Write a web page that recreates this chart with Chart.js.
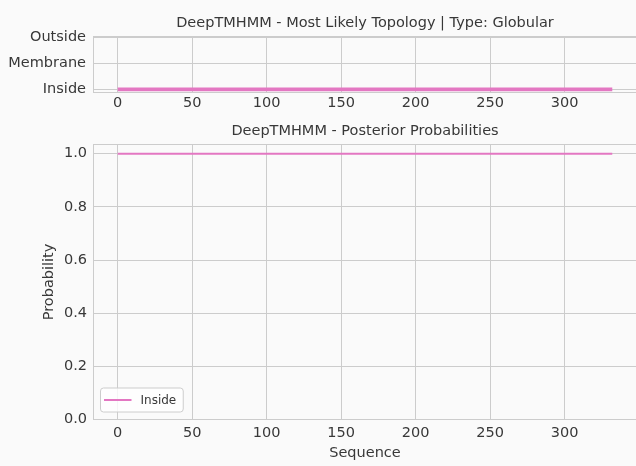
<!DOCTYPE html>
<html>
<head>
<meta charset="utf-8">
<script src="https://cdn.jsdelivr.net/npm/chart.js@4.4.0/dist/chart.umd.min.js"></script>
<style>
html, body { margin: 0; padding: 0; background: #fafafa; overflow: hidden; }
#wrap { position: relative; width: 636px; height: 466px; overflow: hidden; }
canvas { position: absolute; left: 0; }
#topo { top: 0; }
#prob { top: 116px; }
</style>
</head>
<body>
<div id="wrap">
  <canvas id="topo" width="640" height="116"></canvas>
  <canvas id="prob" width="640" height="350"></canvas>
</div>
<script>
// data
let seqPos = [0, 332]            // first and last residue of the sequence
let topoCats = ['Inside', 'Membrane', 'Outside']
let topoState = [0, 0]           // index in topoCats (Inside the whole way)
let probLabel = 'Inside'
let probInside = [1.0, 1.0]
let xTicks = [0, 50, 100, 150, 200, 250, 300]
let topoTicks = [0, 1, 2]
let probTicks = [0, 0.2, 0.4, 0.6, 0.8, 1.0]

let rosa = '#e377c2'
let cinza = '#cccccc'
let texto = '#383838'
let fonte = 'DejaVu Sans'
let tam = 14.5

Chart.defaults.font.family = fonte
Chart.defaults.color = texto
Chart.defaults.animation = false

function pontos(xs, ys) {
    return xs.map((x, i) => ({ x: x, y: ys[i] }))
}

// frame round the plot area (matplotlib spines)
const moldura = {
    id: 'moldura',
    beforeDatasetsDraw(chart) {
        const { ctx, chartArea: a } = chart
        ctx.save()
        ctx.strokeStyle = cinza
        ctx.lineWidth = 1
        ctx.strokeRect(Math.round(a.left) + 0.5, Math.round(a.top) + 0.5,
            Math.round(a.right - a.left), Math.round(a.bottom - a.top))
        ctx.restore()
    }
}

// legend drawn inside the plot, lower left
const legendaDentro = {
    id: 'legendaDentro',
    afterDraw(chart) {
        const { ctx, chartArea: a } = chart
        const ds = chart.data.datasets[0]
        ctx.save()
        ctx.font = '12px "' + fonte + '"'
        const w = 47 + ctx.measureText(ds.label).width
        const h = 24
        const x = a.left + 7.5
        const y = a.bottom - 7.5 - h
        ctx.beginPath()
        ctx.roundRect(x, y, w, h, 3)
        ctx.fillStyle = 'rgba(255,255,255,0.8)'
        ctx.fill()
        ctx.strokeStyle = cinza
        ctx.lineWidth = 1
        ctx.stroke()
        ctx.strokeStyle = ds.borderColor
        ctx.lineWidth = 2
        ctx.beginPath()
        ctx.moveTo(x + 3.5, y + h / 2)
        ctx.lineTo(x + 31, y + h / 2)
        ctx.stroke()
        ctx.fillStyle = texto
        ctx.textBaseline = 'middle'
        ctx.fillText(ds.label, x + 40, y + h / 2 + 0.5)
        ctx.restore()
    }
}

function eixoX(altura, pad, titulo) {
    let e = {
        type: 'linear',
        min: -16.6,
        max: 348.6,
        afterBuildTicks: ax => { ax.ticks = xTicks.map(v => ({ value: v })) },
        afterFit: ax => { ax.height = altura },
        grid: { color: cinza, drawTicks: false },
        border: { display: false },
        ticks: { font: { size: tam }, padding: pad, maxRotation: 0 }
    }
    if (titulo) {
        e.title = { display: true, text: titulo, font: { size: tam }, padding: { top: 2, bottom: 4 } }
    }
    return e
}

// grafico de cima: topologia
new Chart(document.getElementById('topo'), {
    type: 'line',
    data: {
        datasets: [{
            label: 'Topology',
            data: pontos(seqPos, topoState),
            borderColor: rosa,
            borderWidth: 4,
            borderCapStyle: 'butt',
            pointRadius: 0
        }]
    },
    options: {
        responsive: false,
        layout: { padding: { left: 0, right: 3, top: 0, bottom: 0 } },
        plugins: {
            legend: { display: false },
            tooltip: { enabled: false },
            title: {
                display: true,
                fullSize: false,
                text: 'DeepTMHMM - Most Likely Topology | Type: Globular',
                font: { size: tam, weight: 'normal' },
                padding: { top: 15, bottom: 4.5 }
            }
        },
        scales: {
            x: eixoX(24.5, 3),
            y: {
                type: 'linear',
                min: -0.075,
                max: 2,
                afterBuildTicks: ax => { ax.ticks = topoTicks.map(v => ({ value: v })) },
                afterFit: ax => { ax.width = 93 },
                grid: { color: cinza, drawTicks: false },
                border: { display: false },
                ticks: { font: { size: tam }, padding: 7, callback: v => topoCats[v] }
            }
        }
    },
    plugins: [moldura]
})

// grafico de baixo: probabilidades
new Chart(document.getElementById('prob'), {
    type: 'line',
    data: {
        datasets: [{
            label: probLabel,
            data: pontos(seqPos, probInside),
            borderColor: rosa,
            borderWidth: 2,
            borderCapStyle: 'butt',
            pointRadius: 0
        }]
    },
    options: {
        responsive: false,
        layout: { padding: { left: 0, right: 3, top: 0, bottom: 0 } },
        plugins: {
            legend: { display: false },
            tooltip: { enabled: false },
            title: {
                display: true,
                fullSize: false,
                text: 'DeepTMHMM - Posterior Probabilities',
                font: { size: tam, weight: 'normal' },
                padding: { top: 7, bottom: 4 }
            }
        },
        scales: {
            x: eixoX(46.5, 5, 'Sequence'),
            y: {
                type: 'linear',
                min: 0,
                max: 1.035,
                afterBuildTicks: ax => { ax.ticks = probTicks.map(v => ({ value: v })) },
                afterFit: ax => { ax.width = 93 },
                grid: { color: cinza, drawTicks: false },
                border: { display: false },
                title: { display: true, text: 'Probability', font: { size: tam }, padding: { top: 41 } },
                ticks: { font: { size: tam }, padding: 6, callback: v => v.toFixed(1) }
            }
        }
    },
    plugins: [moldura, legendaDentro]
})
</script>
</body>
</html>
